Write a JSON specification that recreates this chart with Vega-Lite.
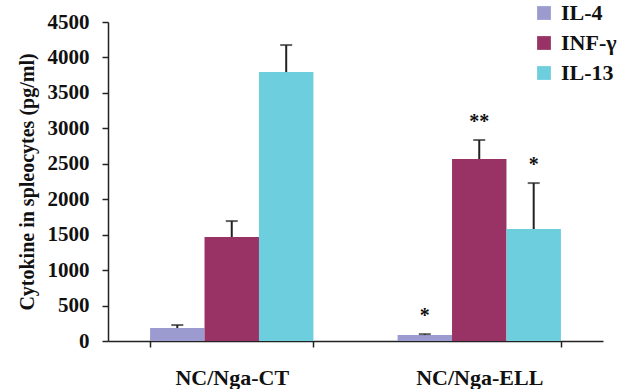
{
  "$schema": "https://vega.github.io/schema/vega-lite/v6.json",
  "width": 495,
  "height": 319,
  "autosize": {"type": "none"},
  "padding": {"left": 108, "top": 22, "right": 20, "bottom": 48},
  "background": "white",
  "config": {
    "view": {"stroke": null},
    "font": "Liberation Serif",
    "axisY": {
      "format": "d", "labelOverlap": false, "labelBound": false, "labelFlush": false,
      "grid": false,
      "titleFont": "Liberation Serif", "titleFontWeight": "bold", "titleFontSize": 20,
      "titleColor": "#111", "titlePadding": 10,
      "labelFont": "Liberation Serif", "labelFontWeight": "bold", "labelFontSize": 21,
      "labelColor": "#111", "labelPadding": 13, "tickSize": 6, "tickColor": "#222",
      "domainColor": "#222", "domainWidth": 1.5, "tickWidth": 1.5
    }
  },
  "data": {
    "values": [
      {"group": "NC/Nga-CT", "cytokine": "IL-4", "value": 183, "upper": 225, "sig": ""},
      {"group": "NC/Nga-CT", "cytokine": "INF-γ", "value": 1467, "upper": 1692, "sig": ""},
      {"group": "NC/Nga-CT", "cytokine": "IL-13", "value": 3794, "upper": 4175, "sig": ""},
      {"group": "NC/Nga-ELL", "cytokine": "IL-4", "value": 85, "upper": 97, "sig": "*"},
      {"group": "NC/Nga-ELL", "cytokine": "INF-γ", "value": 2567, "upper": 2835, "sig": "**"},
      {"group": "NC/Nga-ELL", "cytokine": "IL-13", "value": 1580, "upper": 2228, "sig": "*"}
    ]
  },
  "encoding": {
    "x": {
      "field": "group", "type": "nominal",
      "scale": {"paddingInner": 0.34, "paddingOuter": 0.17},
      "axis": {
        "title": null, "labelAngle": 0, "tickBand": "extent",
        "labelFont": "Liberation Serif", "labelFontWeight": "bold", "labelFontSize": 22,
        "labelColor": "#111", "labelPadding": 20, "tickSize": 6, "tickColor": "#222",
        "domainColor": "#222", "domainWidth": 1.5, "tickWidth": 1.5
      }
    },
    "xOffset": {"field": "cytokine", "type": "nominal", "sort": ["IL-4", "INF-γ", "IL-13"]}
  },
  "layer": [
    {
      "mark": {"type": "bar"},
      "encoding": {
        "y": {
          "field": "value", "type": "quantitative",
          "scale": {"domain": [0, 4500]},
          "axis": {"values": [0, 500, 1000, 1500, 2000, 2500, 3000, 3500, 4000, 4500], "title": "Cytokine in spleocytes (pg/ml)"}
        },
        "color": {
          "field": "cytokine", "type": "nominal",
          "sort": ["IL-4", "INF-γ", "IL-13"],
          "scale": {"domain": ["IL-4", "INF-γ", "IL-13"], "range": ["#9b9bd0", "#993366", "#6dcedd"]},
          "legend": {
            "title": null, "orient": "none", "legendX": 425, "legendY": -20,
            "symbolType": "square", "symbolSize": 190, "symbolStrokeWidth": 0,
            "labelFont": "Liberation Serif", "labelFontWeight": "bold", "labelFontSize": 22,
            "labelColor": "#111", "rowPadding": 8, "labelOffset": 6
          }
        }
      }
    },
    {
      "mark": {"type": "rule", "color": "#222", "strokeWidth": 2},
      "encoding": {
        "y": {"field": "value", "type": "quantitative",
          "axis": {"values": [0, 500, 1000, 1500, 2000, 2500, 3000, 3500, 4000, 4500], "title": "Cytokine in spleocytes (pg/ml)"}},
        "y2": {"field": "upper"}
      }
    },
    {
      "mark": {"type": "tick", "color": "#222", "thickness": 2, "size": 12, "orient": "horizontal"},
      "encoding": {
        "y": {"field": "upper", "type": "quantitative",
          "axis": {"values": [0, 500, 1000, 1500, 2000, 2500, 3000, 3500, 4000, 4500], "title": "Cytokine in spleocytes (pg/ml)"}}
      }
    },
    {
      "mark": {"type": "text", "fontSize": 20, "fontWeight": "bold", "color": "#111", "dy": -8, "baseline": "bottom"},
      "encoding": {
        "y": {"field": "upper", "type": "quantitative",
          "axis": {"values": [0, 500, 1000, 1500, 2000, 2500, 3000, 3500, 4000, 4500], "title": "Cytokine in spleocytes (pg/ml)"}},
        "text": {"field": "sig"}
      }
    }
  ]
}
